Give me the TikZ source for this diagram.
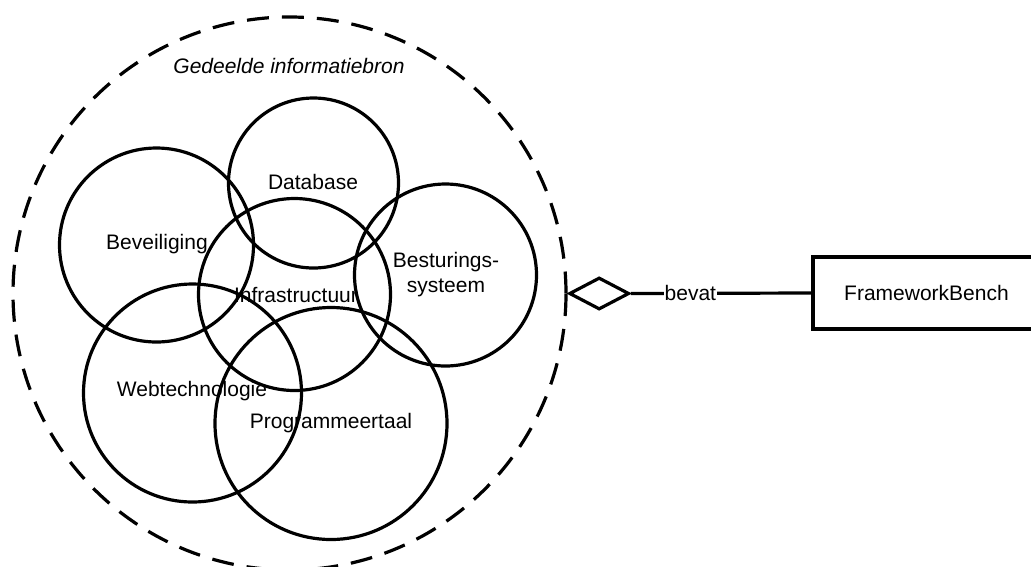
\documentclass[tikz,border=0pt]{standalone}
\usepackage{fontspec}
\setmainfont{Liberation Sans}
\usetikzlibrary{shapes.geometric}
\begin{document}
\begin{tikzpicture}[x=1pt,y=-1pt,
  every node/.style={font=\fontsize{21}{25}\selectfont},
  topic/.style={draw, circle, line width=3.2pt, inner sep=0pt},
  pool/.style={draw, circle, line width=3.2pt, dash pattern=on 22pt off 13pt, inner sep=0pt},
  lbl/.style={inner sep=0pt, align=center},
  agg/.style={draw, diamond, line width=3.2pt, inner sep=0pt, minimum width=60pt, minimum height=32pt},
  cls/.style={draw, rectangle, line width=3.2pt, minimum width=227pt, minimum height=72pt},
  link/.style={line width=3.2pt}]
\useasboundingbox (0,0) rectangle (1031,566);
\clip (0,0) rectangle (1031,566);

% shared information pool
\node[pool, minimum size=553pt] (pool) at (289.5,293.5) {};
\node[lbl, font=\fontsize{21}{25}\selectfont\itshape] (pooltitle) at (289,66) {Gedeelde informatiebron};

% overlapping topic circles
\node[topic, minimum size=170pt] (db)  at (313.5,183) {};
\node[topic, minimum size=194pt] (sec) at (156.5,245) {};
\node[topic, minimum size=192pt] (inf) at (294.5,294.5) {};
\node[topic, minimum size=182pt] (os)  at (445.5,275) {};
\node[topic, minimum size=218pt] (web) at (192.5,393) {};
\node[topic, minimum size=232pt] (pl)  at (331,423.5) {};

% topic labels
\node[lbl] (dbl)  at (313,182) {Database};
\node[lbl] (secl) at (157,244) {Beveiliging};
\node[lbl] (infl) at (296,295) {Infrastructuur};
\node[lbl] (osl)  at (446,275) {Besturings-\\systeem};
\node[lbl] (webl) at (192,391) {Webtechnologie};
\node[lbl] (pll)  at (331,423) {Programmeertaal};

% aggregation to FrameworkBench
\node[agg, anchor=west] (dia) at (pool.east) {};
\node[cls] (fb) at (926.5,293) {FrameworkBench};
\draw[link] (dia.east) -- node[pos=0.33, fill=white, inner sep=1pt] (bevat) {bevat} (fb.west);
\end{tikzpicture}
\end{document}
